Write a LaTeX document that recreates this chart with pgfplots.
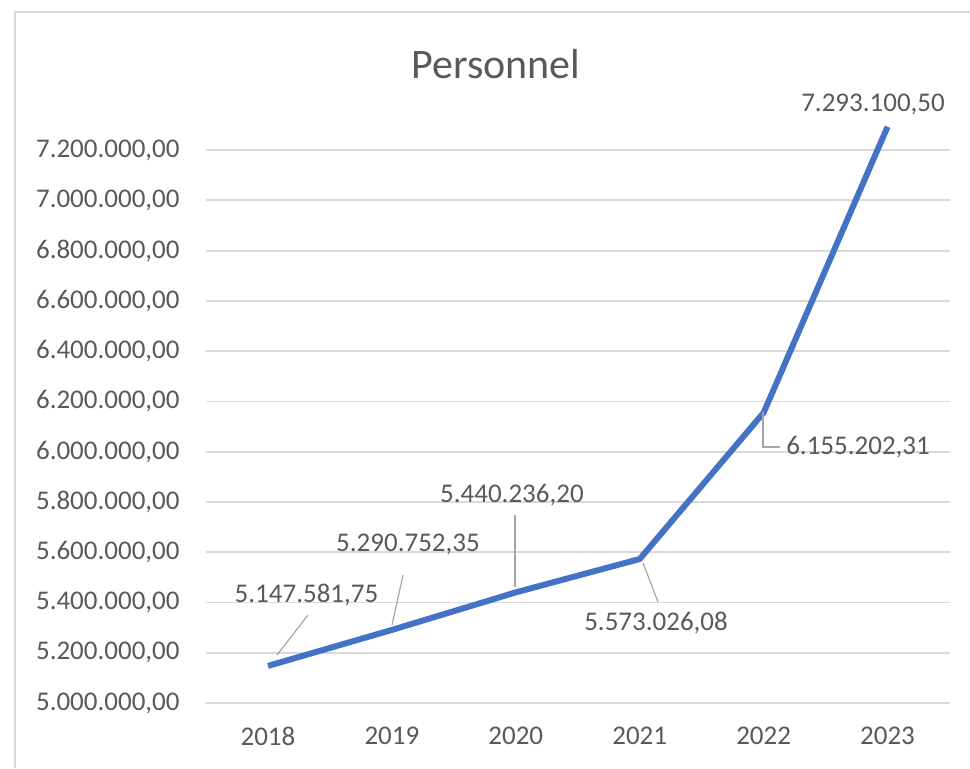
\documentclass[border=0pt]{standalone}
\usepackage{pgfplots}
\pgfplotsset{compat=1.18}
\usepackage{fontspec}
\setmainfont{Carlito}

\definecolor{linecol}{HTML}{4472C4}
\definecolor{txt}{HTML}{595959}
\definecolor{gridc}{HTML}{D9D9D9}
\definecolor{leader}{HTML}{A6A6A6}

\pgfplotstableread{
x y
0 5147581.75
1 5290752.35
2 5440236.20
3 5573026.08
4 6155202.31
5 7293100.50
}\personnel

\begin{document}
\begin{tikzpicture}
\useasboundingbox (0,0) rectangle (485pt,384pt);
% chart frame (only left and top edges are visible)
\draw[gridc, line width=1pt] (7.5pt,0) -- (7.5pt,378pt) -- (485pt,378pt);

\begin{axis}[
    at={(103pt,32.5pt)}, anchor=south west,
    scale only axis,
    width=371.75pt, height=289pt,
    xmin=-0.5, xmax=5.5,
    ymin=5000000, ymax=7300000,
    xtick=data,
    xticklabels={2018,2019,2020,2021,2022,2023},
    ytick={5000000,5200000,...,7200000},
    scaled y ticks=false,
    yticklabel style={
        /pgf/number format/fixed,
        /pgf/number format/fixed zerofill,
        /pgf/number format/precision=2,
        /pgf/number format/use comma,
        /pgf/number format/1000 sep={.},
        /pgf/number format/assume math mode=true,
        anchor=east, inner sep=0pt, xshift=-13pt},
    xticklabel style={anchor=north, inner sep=0pt, yshift=-12pt},
    ticklabel style={font=\fontsize{13.5}{16}\selectfont, text=txt},
    major tick length=0pt,
    axis line style={draw=none},
    ymajorgrids,
    grid style={gridc, line width=0.9pt},
    clip=false,
]
\draw[gridc, line width=0.9pt] (axis cs:-0.5,5000000) -- (axis cs:5.5,5000000);
\addplot[linecol, line width=3pt, line join=round, no markers] table[x=x, y=y] {\personnel};

% leader lines
\begin{scope}[leader, line width=0.6pt]
\draw (axis cs:0.323,5350000) -- (axis cs:0.073,5191000);
\draw (axis cs:1.090,5509000) -- (axis cs:1.001,5310000);
\draw (axis cs:1.994,5748000) -- (axis cs:1.994,5461000);
\draw (axis cs:3.027,5557000) -- (axis cs:3.148,5402000);
\draw (axis cs:3.995,6157600) -- (axis cs:3.995,6018400) -- (axis cs:4.132,6018400);
\end{scope}

% data labels
\begin{scope}[every node/.style={font=\fontsize{13.5}{16}\selectfont, text=txt, inner sep=0pt}]
\node at (axis cs:0.311,5429600) {5.147.581,75};
\node at (axis cs:1.130,5632500) {5.290.752,35};
\node at (axis cs:1.969,5827400) {5.440.236,20};
\node at (axis cs:3.132,5318200) {5.573.026,08};
\node at (axis cs:4.762,6018400) {6.155.202,31};
\node at (axis cs:4.883,7382800) {7.293.100,50};
\end{scope}
\end{axis}

\node[font=\fontsize{21}{25}\selectfont, text=txt] at (248pt,352pt) {Personnel};
\end{tikzpicture}
\end{document}
